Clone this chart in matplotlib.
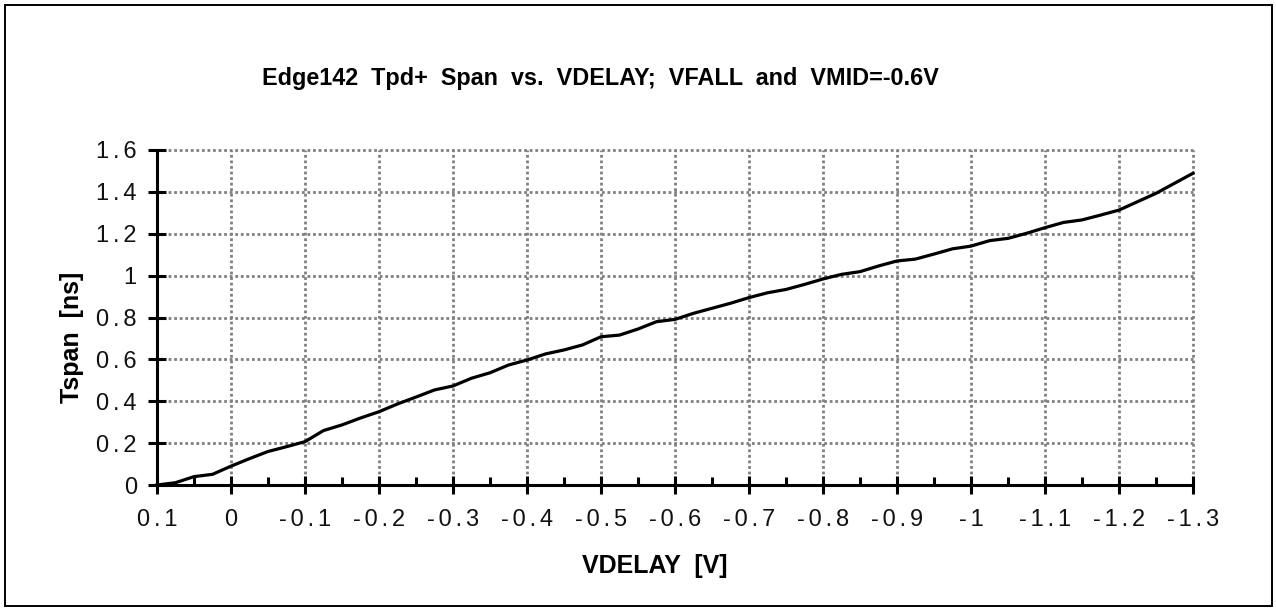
import matplotlib
matplotlib.use("Agg")
import matplotlib.pyplot as plt
from matplotlib.patches import Rectangle

plt.rcParams['font.family'] = ['Liberation Sans', 'DejaVu Sans']

# ---- data ----
vdelay = [0.1, 0.075, 0.05, 0.025, 0.0, -0.025, -0.05, -0.075, -0.1, -0.125,
          -0.15, -0.175, -0.2, -0.225, -0.25, -0.275, -0.3, -0.325, -0.35, -0.375,
          -0.4, -0.425, -0.45, -0.475, -0.5, -0.525, -0.55, -0.575, -0.6, -0.625,
          -0.65, -0.675, -0.7, -0.725, -0.75, -0.775, -0.8, -0.825, -0.85, -0.875,
          -0.9, -0.925, -0.95, -0.975, -1.0, -1.025, -1.05, -1.075, -1.1, -1.125,
          -1.15, -1.175, -1.2, -1.225, -1.25, -1.275, -1.3]
tspan = [0.000, 0.011, 0.040, 0.051, 0.090, 0.126, 0.160, 0.183, 0.207, 0.260,
         0.287, 0.320, 0.350, 0.387, 0.420, 0.454, 0.473, 0.510, 0.536, 0.573,
         0.597, 0.626, 0.645, 0.669, 0.708, 0.716, 0.745, 0.780, 0.791, 0.820,
         0.844, 0.868, 0.895, 0.918, 0.934, 0.958, 0.984, 1.006, 1.019, 1.046,
         1.070, 1.079, 1.103, 1.128, 1.141, 1.167, 1.178, 1.202, 1.229, 1.254,
         1.266, 1.289, 1.313, 1.353, 1.393, 1.441, 1.489]
x_ticks = [0.1, 0.0, -0.1, -0.2, -0.3, -0.4, -0.5, -0.6, -0.7, -0.8, -0.9, -1.0, -1.1, -1.2, -1.3]
x_minor = [0.05, -0.05, -0.15, -0.25, -0.35, -0.45, -0.55, -0.65, -0.75, -0.85, -0.95, -1.05, -1.15, -1.25]
x_labels = ["0.1", "0", "-0.1", "-0.2", "-0.3", "-0.4", "-0.5", "-0.6", "-0.7", "-0.8",
            "-0.9", "-1", "-1.1", "-1.2", "-1.3"]
y_ticks = [0, 0.2, 0.4, 0.6, 0.8, 1.0, 1.2, 1.4, 1.6]
y_labels = ["0", "0.2", "0.4", "0.6", "0.8", "1", "1.2", "1.4", "1.6"]

title = "Edge142  Tpd+  Span  vs.  VDELAY;  VFALL  and  VMID=-0.6V"
xlabel = "VDELAY  [V]"
ylabel = "Tspan  [ns]"


def spaced(s):
    return "\u2006".join(list(s))


W, H = 1276, 609
fig = plt.figure(figsize=(W / 100, H / 100), dpi=100)
fig.patch.set_facecolor("white")

ax = fig.add_axes([157 / W, 1 - 485 / H, (1193 - 157) / W, (485 - 150) / H])

ax.plot(vdelay, tspan, color="black", lw=2.3, solid_joinstyle="round", zorder=5, clip_on=False)

ax.set_xlim(0.1, -1.3)
ax.set_ylim(0, 1.6)

ax.set_xticks(x_ticks)
ax.set_xticklabels([spaced(s) for s in x_labels], fontsize=17)
ax.set_xticks(x_minor, minor=True)
ax.set_yticks(y_ticks)
ax.set_yticklabels([spaced(s) for s in y_labels], fontsize=17)

ax.tick_params(axis="x", which="major", direction="inout", length=12.5, width=2.2,
               pad=11, colors="black", labelcolor="#111111")
ax.tick_params(axis="x", which="minor", direction="in", length=6, width=2.2)
ax.tick_params(axis="y", which="major", direction="inout", length=13, width=2.2,
               pad=8, labelcolor="#111111")

for s in ["top", "right"]:
    ax.spines[s].set_visible(False)
for s in ["left", "bottom"]:
    ax.spines[s].set_linewidth(2.2)
    ax.spines[s].set_color("black")
    ax.spines[s].set_zorder(6)

ax.grid(True, which="major", color="#808080", lw=2.0, linestyle=(0, (1, 1)))
ax.set_axisbelow(True)
for gl in ax.get_xgridlines() + ax.get_ygridlines():
    gl.set_clip_on(False)

fig.text(600 / W, 1 - 78 / H, title, ha="center", va="center", fontsize=16.8,
         fontweight="bold")
fig.text(655 / W, 1 - 566 / H, xlabel, ha="center", va="center", fontsize=18,
         fontweight="bold")
fig.text(72 / W, 1 - 337 / H, ylabel, ha="center", va="center", fontsize=18,
         fontweight="bold", rotation=90)

fig.patches.append(Rectangle((5 / W, 1 - 606 / H), (1272 - 5) / W, (606 - 5) / H,
                             transform=fig.transFigure, fill=False, edgecolor="black",
                             lw=1.4))

fig.savefig("out.png", dpi=100, facecolor="white")
